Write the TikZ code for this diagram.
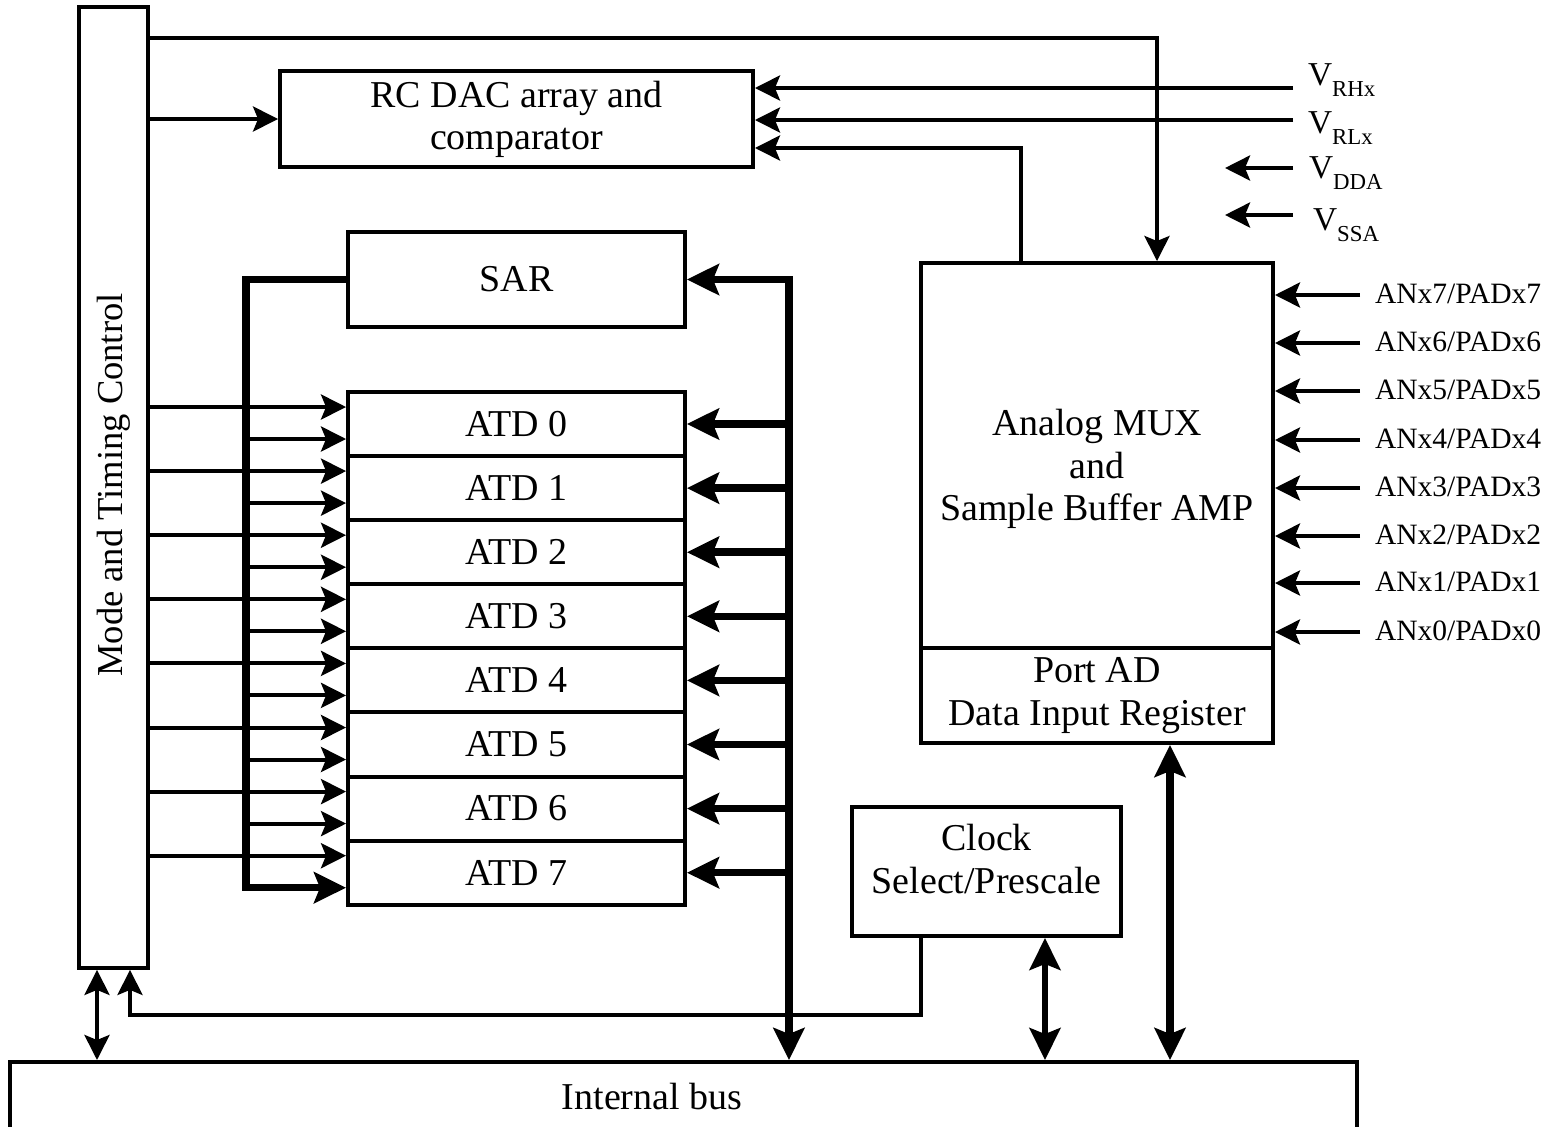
\documentclass[tikz,border=0pt]{standalone}
\usepackage{fontspec}
\setmainfont{Liberation Serif}
\usetikzlibrary{arrows.meta}

\tikzset{
  blk/.style={draw, line width=0.08cm, inner sep=0pt, align=center},
  >={Stealth[length=0.5cm,width=0.5cm,inset=0.1cm]},
  bus/.style={line width=0.15cm, >={Stealth[length=0.64cm,width=0.62cm,inset=0.12cm]}},
  pinlbl/.style={inner sep=0pt, font=\fontsize{16.8}{18}\selectfont},
  vlbl/.style={inner sep=0pt, anchor=base west, font=\fontsize{19}{19}\selectfont},
}
\newcommand{\vpin}[1]{V\raisebox{-6.8pt}{\fontsize{13}{13}\selectfont #1}}

\begin{document}
\begin{tikzpicture}[x=0.02cm, y=-0.02cm, line width=0.08cm, font=\fontsize{21.6}{24}\selectfont]
\useasboundingbox (0,0) rectangle (1558,1126);

% blocks
\node[blk, minimum width=1.38cm, minimum height=19.22cm] (mtc) at (113.5,487.5) {};
\node[rotate=90, font=\fontsize{20.8}{24}\selectfont] (mtclbl) at (113.5,485) {Mode and Timing Control};
\node[blk, minimum width=9.46cm, minimum height=1.92cm] (rc) at (516.5,119) {RC DAC array and\\comparator};
\node[blk, minimum width=6.74cm, minimum height=1.9cm] (sar) at (516.5,279.5) {SAR};
\foreach \i in {0,...,7}
  \node[blk, minimum width=6.74cm, minimum height=1.282cm] (atd\i) at (516.5,424+64.1*\i) {ATD \i};
\node[blk, minimum width=7.04cm, minimum height=7.7cm] (mux) at (1097,455.5) {};
\node[align=center] (muxlbl) at (1097,469) {Analog MUX\\and\\Sample Buffer AMP};
\node[blk, minimum width=7.04cm, minimum height=1.9cm] (port) at (1097,695.5) {Port AD\\Data Input Register};
\node[blk, minimum width=5.38cm, minimum height=2.58cm] (clk) at (986.5,871.5) {};
\node[align=center] (clklbl) at (986.5,859) {Clock\\Select/Prescale};
\node[blk, minimum width=26.94cm, minimum height=1.4cm] (ibus) at (683.5,1097) {};
\node (ibuslbl) at (652,1097) {Internal bus};

% reference pins
\node[vlbl] (vrhl) at (1306,85) {\vpin{RHx}};
\node[vlbl] (vrll) at (1306,133) {\vpin{RLx}};
\node[vlbl] (vddal) at (1307,178) {\vpin{DDA}};
\node[vlbl] (vssal) at (1311,230) {\vpin{SSA}};
\coordinate (vrh) at (1293,88);
\coordinate (vrl) at (1293,120);
\coordinate (vdda) at (1293,168);
\coordinate (vddaend) at (1225,168);
\coordinate (vssa) at (1293,215);
\coordinate (vssaend) at (1225,215);

\draw[->] (mtc.north east) ++(0,33) -| ([xshift=1.2cm]mux.north);
\draw[->] (mtc.east |- rc.west) -- (rc.west);
\draw[->] (vrh) -- (rc.east |- vrh);
\draw[->] (vrl) -- (rc.east |- vrl);
\draw[->] ([xshift=-1.52cm]mux.north) |- ([yshift=-0.58cm]rc.east);
\draw[->] (vdda) -- (vddaend);
\draw[->] (vssa) -- (vssaend);

% ATD channels
\path (sar.west) ++(-100,0) coordinate (sarbus);
\path (sar.east) ++(102,0) coordinate (rbus);
\foreach \i in {0,...,7} {
  \coordinate (a\i) at ([yshift=0.34cm]atd\i.west);
  \coordinate (b\i) at ([yshift=-0.3cm]atd\i.west);
  \draw[->] (mtc.east |- a\i) -- (a\i);
  \draw[bus,->] (rbus |- atd\i.east) -- (atd\i.east);
}
\foreach \i in {0,...,6}
  \draw[->] (sarbus |- b\i) -- (b\i);
\draw[bus,->] (sar.west) -- (sarbus) |- (b7);
\draw[bus,<->] (sar.east) -| (rbus |- ibus.north);

% bus side
\coordinate (mtcio) at ([xshift=-0.33cm]mtc.south);
\draw[<->] (mtcio) -- (mtcio |- ibus.north);
\coordinate (clkret) at (130,1015);
\draw[->] ([xshift=-1.31cm]clk.south) |- (clkret) -- (clkret |- mtc.south);
\coordinate (clkio) at ([xshift=1.17cm]clk.south);
\draw[bus,line width=0.11cm,<->] (clkio) -- (clkio |- ibus.north);
\coordinate (portio) at ([xshift=1.46cm]port.south);
\draw[bus,<->] (portio) -- (portio |- ibus.north);

% analog inputs
\foreach \i/\y in {7/295,6/343,5/391,4/440,3/488,2/536,1/583,0/632} {
  \coordinate (an\i) at (1360,\y);
  \draw[->] (an\i) -- (mux.east |- an\i);
  \node[pinlbl, anchor=base west] (anl\i) at (1373,\y+8) {ANx\i/PADx\i};
}
\end{tikzpicture}
\end{document}
